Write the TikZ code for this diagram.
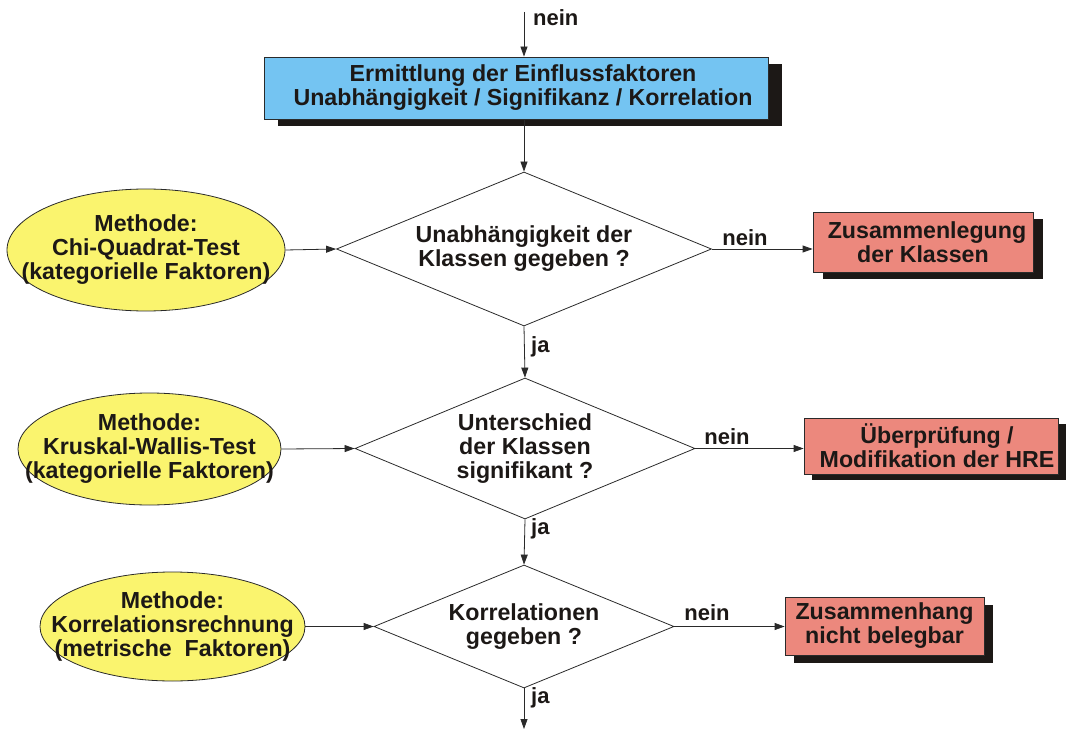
\documentclass[tikz,border=0pt]{standalone}
\usepackage{fontspec}
\setmainfont{Liberation Sans}
\usetikzlibrary{shapes.geometric,arrows.meta,shadows}
\definecolor{boxblue}{HTML}{74C4F2}
\definecolor{elyellow}{HTML}{FAF46E}
\definecolor{boxred}{HTML}{EC887D}
\definecolor{shadowc}{HTML}{1C1816}
\definecolor{linec}{HTML}{2A2A2A}
\begin{document}
\begin{tikzpicture}[x=1pt,y=-1pt,
  txt/.style={font=\fontsize{23.2}{24}\selectfont\bfseries, text=shadowc, align=center},
  shbox/.style={draw=linec, line width=0.8pt, rectangle, inner sep=0pt, txt},
  shad/.style 2 args={general shadow={fill=shadowc, shadow xshift=#1pt, shadow yshift=-#2pt}},
  dec/.style={draw=linec, line width=0.8pt, diamond, inner sep=0pt},
  meth/.style={draw=linec, line width=0.8pt, ellipse, fill=elyellow, inner sep=0pt},
  conn/.style={draw=linec, line width=0.8pt, -{Triangle[length=10pt,width=7pt]}},
  lbl/.style={font=\fontsize{22}{24}\selectfont\bfseries, text=shadowc, inner sep=0pt}
]
\useasboundingbox (0,0) rectangle (1066,733);

% top
\coordinate (topin) at (524,12);
\node[shbox, shad={14}{7}, fill=boxblue, minimum width=504pt, minimum height=62pt] (ermitt) at (516,88)
  {\hspace*{14pt}Ermittlung der Einflussfaktoren\\\hspace*{14pt}Unabhängigkeit / Signifikanz / Korrelation};
\draw[conn] (topin) -- (ermitt.north -| topin);
\node[lbl, anchor=west] (nein0) at (533,18) {nein};

% level 1
\node[dec, minimum width=375pt, minimum height=154pt,
  label={[txt]center:Unabhängigkeit der\\Klassen gegeben ?}] (d1) at (524,249) {};
\node[meth, minimum width=278pt, minimum height=122pt,
  label={[txt]center:Methode:\\Chi-Quadrat-Test\\(kategorielle Faktoren)}] (m1) at (146,250) {};
\node[shbox, shad={10}{7}, fill=boxred, minimum width=220pt, minimum height=60pt] (r1) at (923,242)
  {\hspace*{8pt}Zusammenlegung\\der Klassen};
\draw[conn] (ermitt.south -| d1.north) -- (d1.north);
\draw[conn] (m1.east) -- (d1.west);
\draw[conn] (d1.east) -- (r1.west |- d1.east);
\node[lbl] (nein1) at (745,238) {nein};

% level 2
\node[dec, minimum width=340pt, minimum height=141pt,
  label={[txt]center:Unterschied\\der Klassen\\signifikant ?}] (d2) at (525,448.5) {};
\node[meth, minimum width=263pt, minimum height=112pt,
  label={[txt]center:Methode:\\Kruskal-Wallis-Test\\(kategorielle Faktoren)}] (m2) at (149.5,449) {};
\node[shbox, shad={8}{6}, fill=boxred, minimum width=254pt, minimum height=56pt] (r2) at (931,446)
  {\hspace*{12pt}Überprüfung /\\\hspace*{12pt}Modifikation der HRE};
\draw[conn] (d1.south) -- (d2.north);
\node[lbl, anchor=west] (ja1) at (531,347) {ja};
\draw[conn] (m2.east) -- (d2.west);
\draw[conn] (d2.east) -- (r2.west |- d2.east);
\node[lbl] (nein2) at (727,437) {nein};

% level 3
\node[dec, minimum width=300pt, minimum height=123pt,
  label={[txt]center:Korrelationen\\gegeben ?}] (d3) at (524,626.5) {};
\node[meth, minimum width=265pt, minimum height=109pt,
  label={[txt]center:Methode:\\Korrelationsrechnung\\(metrische\ \ Faktoren)}] (m3) at (172.5,626.5) {};
\node[shbox, shad={9}{8}, fill=boxred, minimum width=199pt, minimum height=58pt] (r3) at (884.5,626)
  {Zusammenhang\\nicht belegbar};
\draw[conn] (d2.south) -- (d3.north);
\node[lbl, anchor=west] (ja2) at (531,529) {ja};
\draw[conn] (m3.east) -- (d3.west);
\draw[conn] (d3.east) -- (r3.west |- d3.east);
\node[lbl] (nein3) at (707,613) {nein};

\coordinate (botout) at (524,729);
\draw[conn] (d3.south) -- (botout);
\node[lbl, anchor=west] (ja3) at (531,698) {ja};
\end{tikzpicture}
\end{document}
